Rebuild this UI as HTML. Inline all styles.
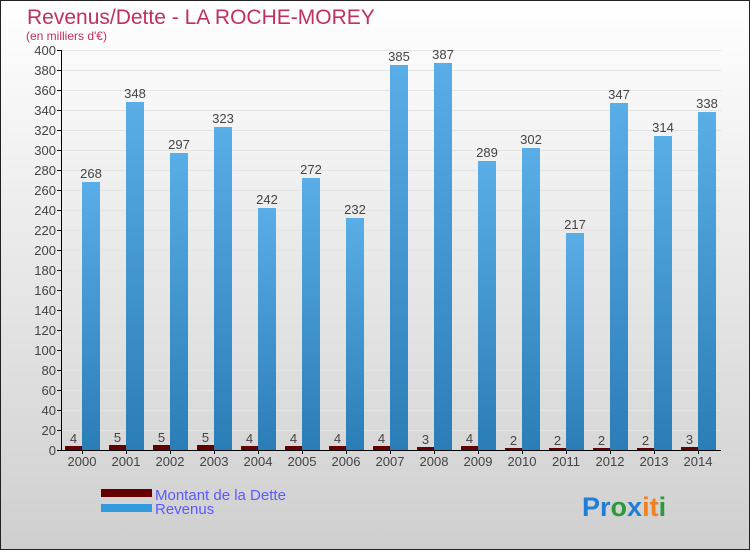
<!DOCTYPE html>
<html><head><meta charset="utf-8"><style>
body{margin:0;width:750px;height:550px;overflow:hidden;font-family:"Liberation Sans",sans-serif}
</style></head><body>
<svg width="750" height="550" xmlns="http://www.w3.org/2000/svg">
<defs>
<linearGradient id="bg" x1="0" y1="0" x2="0" y2="1"><stop offset="0" stop-color="#ffffff"/><stop offset="1" stop-color="#cfcfcf"/></linearGradient>
<linearGradient id="rev" x1="0" y1="0" x2="0" y2="1"><stop offset="0" stop-color="#5aaee8"/><stop offset="1" stop-color="#2a7db6"/></linearGradient>
</defs>
<rect x="0.5" y="0.5" width="749" height="549" fill="url(#bg)" stroke="#222"/>
<text x="27" y="24" font-size="21" fill="#c0305f">Revenus/Dette - LA ROCHE-MOREY</text>
<text x="26" y="40" font-size="12" fill="#c0305f">(en milliers d'€)</text>
<g id="grid"></g><g id="bars"></g><g id="axes"></g>
<g>
<rect x="101" y="489" width="51" height="8" fill="#660000"/>
<text x="155" y="500" font-size="15" fill="#5a5aff">Montant de la Dette</text>
<rect x="101" y="504" width="51" height="8" fill="#3399dd"/>
<text x="155" y="514" font-size="15" fill="#5a5aff">Revenus</text>
</g>
<text x="582" y="516" font-size="27" font-weight="bold"><tspan fill="#1f7fd8">Pr</tspan><tspan fill="#2a9a3a">o</tspan><tspan fill="#1f7fd8">x</tspan><tspan fill="#f08020">i</tspan><tspan fill="#f08020">t</tspan><tspan fill="#2a9a3a">i</tspan></text>
</svg>
<script>
const years=["2000","2001","2002","2003","2004","2005","2006","2007","2008","2009","2010","2011","2012","2013","2014"];
const revenus=[268,348,297,323,242,272,232,385,387,289,302,217,347,314,338];
const dette=[4,5,5,5,4,4,4,4,3,4,2,2,2,2,3];
const yTicks=[0,20,40,60,80,100,120,140,160,180,200,220,240,260,280,300,320,340,360,380,400];
const NS="http://www.w3.org/2000/svg";
const x0=61,y0=450,step=44;
function y(v){return y0-v*400/400;}
function gx(i){return x0+i*step;}
function mk(t,a,p){const e=document.createElementNS(NS,t);for(const k in a)e.setAttribute(k,a[k]);p.appendChild(e);return e;}
const grid=document.getElementById('grid'),bars=document.getElementById('bars'),axes=document.getElementById('axes');
yTicks.forEach(v=>{
 const l=mk('line',{x1:x0,x2:x0+step*years.length,y1:y(v)+0.5,y2:y(v)+0.5,stroke:'#e4e4e4'},grid);
 
 
 const t=mk('line',{x1:x0-4,x2:x0,y1:y(v)+0.5,y2:y(v)+0.5,stroke:'#000'},axes);
 
 
 const tx=mk('text',{x:x0-5,y:y(v)+5,'text-anchor':'end','font-size':'13',fill:'#444'},axes);
 tx.textContent=v;
 
 
});
years.forEach((yr,i)=>{
 const g=gx(i);
 const d=mk('rect',{x:g+4,y:y(dette[i]),width:17,height:dette[i],fill:'#660000'},bars);
 
 
 const r=mk('rect',{x:g+21,y:y(revenus[i]),width:18,height:revenus[i],fill:'url(#rev)'},bars);
 
 
 const dl=mk('text',{x:g+12.5,y:y(dette[i])-3,'text-anchor':'middle','font-size':'13',fill:'#444'},bars);
 dl.textContent=dette[i];
 
 
 const rl=mk('text',{x:g+30,y:y(revenus[i])-4,'text-anchor':'middle','font-size':'13',fill:'#444'},bars);
 rl.textContent=revenus[i];
 
 
 const tk=mk('line',{x1:g+21.5,x2:g+21.5,y1:y0,y2:y0+4,stroke:'#000'},axes);
 
 
 const xl=mk('text',{x:g+21,y:y0+16,'text-anchor':'middle','font-size':'13',fill:'#444'},axes);
 xl.textContent=yr;
 
 
});
const ya=mk('line',{x1:x0+0.5,x2:x0+0.5,y1:y(400),y2:y0+1,stroke:'#000'},axes);


const xa=mk('line',{x1:x0,x2:x0+step*years.length,y1:y0+0.5,y2:y0+0.5,stroke:'#000'},axes);


</script>
</body></html>
